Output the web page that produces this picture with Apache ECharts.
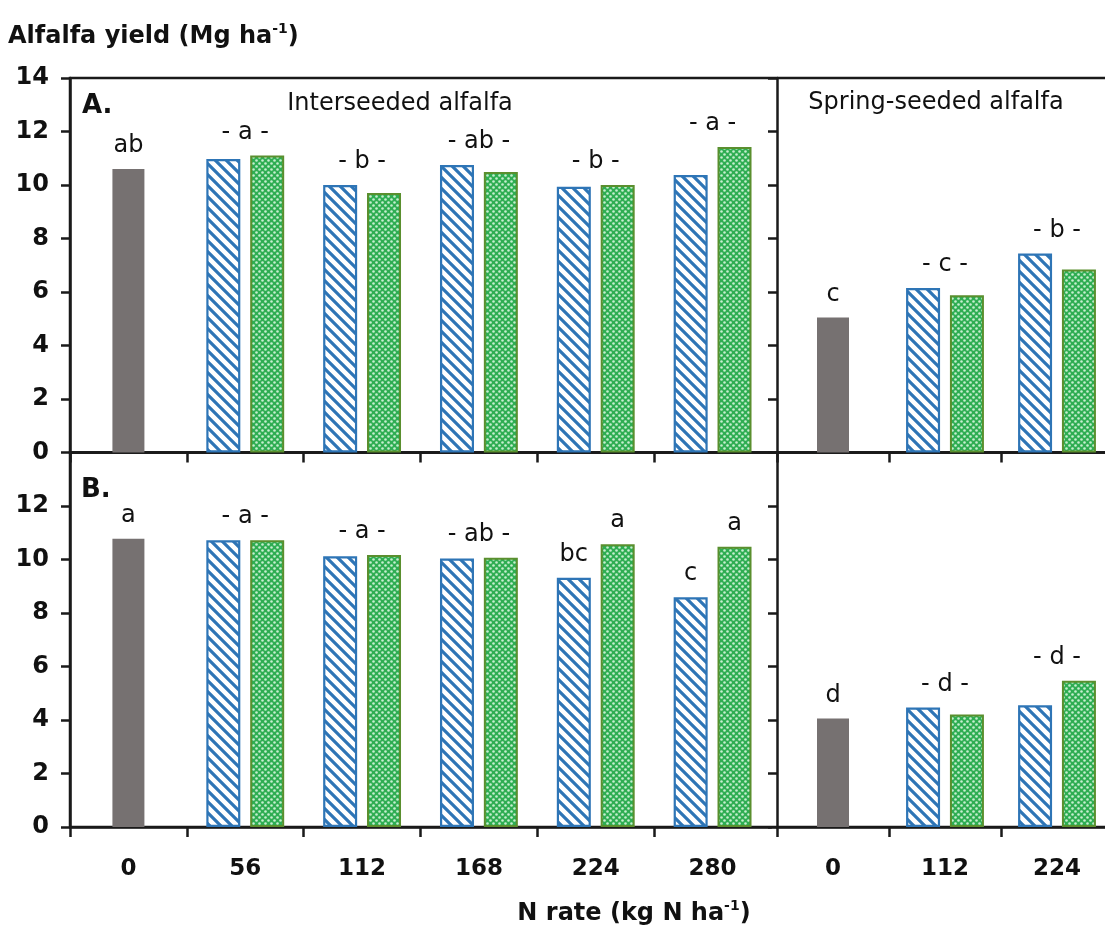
<!DOCTYPE html>
<html><head><meta charset="utf-8">
<script src="https://cdn.jsdelivr.net/npm/echarts@6/dist/echarts.min.js"></script>
<style>html,body{margin:0;padding:0;background:#fff}#c{width:1105px;height:935px}</style>
</head><body><div id="c"></div>
<script>
// ---------- data ----------
const interCats = ['0','56','112','168','224','280'];
const springCats = ['0','112','224'];

// Panel A
const aInterGray  = [10.6, null, null, null, null, null];
const aInterBlue  = [null, 10.97, 10.0, 10.75, 9.93, 10.37];
const aInterGreen = [null, 11.1, 9.7, 10.49, 10.0, 11.42];
const aInterGroupLetters = ['ab', '- a -', '- b -', '- ab -', '- b -', '- a -'];
const aSpringGray  = [5.05, null, null];
const aSpringBlue  = [null, 6.15, 7.44];
const aSpringGreen = [null, 5.88, 6.84];
const aSpringGroupLetters = ['c', '- c -', '- b -'];

// Panel B
const bInterGray  = [10.78, null, null, null, null, null];
const bInterBlue  = [null, 10.72, 10.12, 10.04, 9.32, 8.59];
const bInterGreen = [null, 10.72, 10.17, 10.07, 10.57, 10.48];
const bInterGroupLetters = ['a', '- a -', '- a -', '- ab -', '', ''];
const bInterBlueLetters  = ['', '', '', '', 'bc', 'c'];
const bInterGreenLetters = ['', '', '', '', 'a', 'a'];
const bSpringGray  = [4.06, null, null];
const bSpringBlue  = [null, 4.47, 4.55];
const bSpringGreen = [null, 4.21, 5.47];
const bSpringGroupLetters = ['d', '- d -', '- d -'];

const yMin = 0, yMax = 14, yStep = 2;

// ---------- styles ----------
const FONT = 'DejaVu Sans';
const INK = '#1a1a1a';
const TXT = '#111111';
const BLUE = '#2e75b6';
const GREEN_BORDER = '#5a8f2e';
const GRAY = '#767171';
const LW = 2.5;

function makeBluePattern() {
  const s = 11;
  const c = document.createElement('canvas');
  c.width = s; c.height = s;
  const g = c.getContext('2d');
  g.fillStyle = '#ffffff'; g.fillRect(0, 0, s, s);
  g.strokeStyle = BLUE; g.lineWidth = 3.2;
  g.beginPath();
  g.moveTo(-s, -s); g.lineTo(2 * s, 2 * s);
  g.moveTo(-s, 0); g.lineTo(s, 2 * s);
  g.moveTo(0, -s); g.lineTo(2 * s, s);
  g.stroke();
  return c;
}
function makeGreenPattern() {
  const c = document.createElement('canvas');
  c.width = 6; c.height = 6;
  const g = c.getContext('2d');
  g.fillStyle = '#2ead52'; g.fillRect(0, 0, 6, 6);
  g.fillStyle = '#c6eecf';
  g.beginPath(); g.arc(1.5, 1.5, 1.3, 0, Math.PI * 2); g.fill();
  g.beginPath(); g.arc(4.5, 4.5, 1.3, 0, Math.PI * 2); g.fill();
  return c;
}
const bluePattern = { image: makeBluePattern(), repeat: 'repeat' };
const greenPattern = { image: makeGreenPattern(), repeat: 'repeat' };

// layout (px)
const TOP_A = 78, TOP_B = 452.5, PH = 374.5;
const LEFT = 70, INTER_W = 701, DIV = 777, SPRING_W = 336, FRAME_W = 1043;
const BAND = INTER_W / interCats.length;
const gridBase = { outerBoundsMode: 'none', containLabel: false };

const grids = [
  { left: LEFT, top: TOP_A, width: INTER_W, height: PH },      // 0 A interseeded
  { left: DIV,  top: TOP_A, width: SPRING_W, height: PH },     // 1 A spring
  { left: LEFT, top: TOP_B, width: INTER_W, height: PH },      // 2 B interseeded
  { left: DIV,  top: TOP_B, width: SPRING_W, height: PH },     // 3 B spring
  { left: LEFT, top: TOP_A, width: BAND * (interCats.length - 1), height: PH }, // 4 A tick helper
  { left: LEFT, top: TOP_B, width: BAND * (interCats.length - 1), height: PH }, // 5 B tick helper
  { left: LEFT, top: TOP_A, width: FRAME_W, height: PH, show: true, borderColor: INK, borderWidth: LW }, // 6 frame A
  { left: LEFT, top: TOP_B, width: FRAME_W, height: PH, show: true, borderColor: INK, borderWidth: LW }  // 7 frame B
].map(g => Object.assign({}, gridBase, g));

const xAxes = [], yAxes = [], series = [];
const letterLabel = (arr) => ({
  show: true, position: 'top', distance: 11,
  fontSize: 24, fontFamily: FONT, color: TXT,
  formatter: p => arr[p.dataIndex] || ''
});

function panel(g, cats, gray, blue, green, groupLetters, blueLetters, greenLetters, showX, showY, hideTop, ticks) {
  xAxes.push({
    type: 'category', gridIndex: g, data: cats, position: 'bottom',
    axisLine: { show: true, lineStyle: { color: INK, width: LW } },
    axisTick: { show: ticks, length: 10, lineStyle: { color: INK, width: LW } },
    axisLabel: { show: showX, fontSize: 23, fontWeight: 'bold', fontFamily: FONT, color: TXT, margin: 31 }
  });
  xAxes.push({ type: 'category', gridIndex: g, data: cats, show: false });
  yAxes.push({
    type: 'value', gridIndex: g, min: yMin, max: yMax, interval: yStep,
    axisLine: { show: true, lineStyle: { color: INK, width: LW } },
    axisTick: { show: true, length: 9, lineStyle: { color: INK, width: LW } },
    splitLine: { show: false },
    axisLabel: { show: showY, fontSize: 24, fontWeight: 'bold', fontFamily: FONT, color: TXT, margin: 21,
      formatter: v => (hideTop && v === yMax) ? '' : String(v) }
  });
  const mainX = 2 * g, cenX = 2 * g + 1;
  series.push({
    type: 'bar', xAxisIndex: mainX, yAxisIndex: g, data: blue, barWidth: 34, barGap: '29%', silent: true,
    itemStyle: { color: bluePattern, borderColor: BLUE, borderWidth: 2.2 },
    label: blueLetters ? letterLabel(blueLetters) : { show: false }
  });
  series.push({
    type: 'bar', xAxisIndex: mainX, yAxisIndex: g, data: green, barWidth: 34, barGap: '29%', silent: true,
    itemStyle: { color: greenPattern, borderColor: GREEN_BORDER, borderWidth: 2 },
    label: greenLetters ? letterLabel(greenLetters) : { show: false }
  });
  series.push({
    type: 'bar', xAxisIndex: cenX, yAxisIndex: g, data: gray, barWidth: 32, barGap: '-100%', silent: true,
    itemStyle: { color: GRAY }
  });
  const tops = cats.map((_, i) => gray[i] != null ? gray[i] : Math.max(blue[i], green[i]));
  series.push({
    type: 'bar', xAxisIndex: cenX, yAxisIndex: g, data: tops, barWidth: 32, barGap: '-100%', silent: true,
    itemStyle: { color: 'rgba(0,0,0,0)' },
    label: letterLabel(groupLetters)
  });
}

panel(0, interCats, aInterGray, aInterBlue, aInterGreen, aInterGroupLetters, null, null, false, true, false, false);
panel(1, springCats, aSpringGray, aSpringBlue, aSpringGreen, aSpringGroupLetters, null, null, false, false, false, true);
panel(2, interCats, bInterGray, bInterBlue, bInterGreen, bInterGroupLetters, bInterBlueLetters, bInterGreenLetters, true, true, true, false);
panel(3, springCats, bSpringGray, bSpringBlue, bSpringGreen, bSpringGroupLetters, null, null, true, false, true, true);

// tick helpers for the interseeded section (category boundaries, without the last one at the divider)
[4, 5].forEach(g => {
  xAxes.push({
    type: 'category', gridIndex: g, data: interCats.slice(0, interCats.length - 1),
    axisLine: { show: false },
    axisTick: { show: true, length: 10, lineStyle: { color: INK, width: LW } },
    axisLabel: { show: false }
  });
  yAxes.push({ type: 'value', gridIndex: g, min: yMin, max: yMax, show: false });
});
// frames
[6, 7].forEach(g => {
  xAxes.push({ type: 'category', gridIndex: g, data: interCats, show: false });
  yAxes.push({ type: 'value', gridIndex: g, min: yMin, max: yMax, show: false });
});

const richTitle = {
  b: { fontSize: 24, fontWeight: 'bold', fontFamily: FONT, fill: TXT, lineHeight: 30 },
  s: { fontSize: 14, fontWeight: 'bold', fontFamily: FONT, fill: TXT, lineHeight: 16, verticalAlign: 'top' }
};

const chart = echarts.init(document.getElementById('c'), null, { renderer: 'canvas' });
chart.setOption({
  animation: false,
  backgroundColor: '#ffffff',
  grid: grids,
  xAxis: xAxes,
  yAxis: yAxes,
  series: series,
  graphic: [
    { type: 'text', left: 8, top: 22, z: 100,
      style: { text: '{b|Alfalfa yield (Mg ha}{s|-1}{b|)}', rich: richTitle } },
    { type: 'text', x: 634, y: 914, z: 100,
      style: { text: '{b|N rate (kg N ha}{s|-1}{b|)}', rich: richTitle, align: 'center', verticalAlign: 'middle' } },
    { type: 'text', x: 82, y: 106, z: 100,
      style: { text: 'A.', font: 'bold 26px "DejaVu Sans"', fill: TXT, verticalAlign: 'middle' } },
    { type: 'text', x: 81, y: 490, z: 100,
      style: { text: 'B.', font: 'bold 26px "DejaVu Sans"', fill: TXT, verticalAlign: 'middle' } },
    { type: 'text', x: 400, y: 104, z: 100,
      style: { text: 'Interseeded alfalfa', font: '24px "DejaVu Sans"', fill: TXT, align: 'center', verticalAlign: 'middle' } },
    { type: 'text', x: 936, y: 103, z: 100,
      style: { text: 'Spring-seeded alfalfa', font: '24px "DejaVu Sans"', fill: TXT, align: 'center', verticalAlign: 'middle' } }
  ]
});
</script>
</body></html>
